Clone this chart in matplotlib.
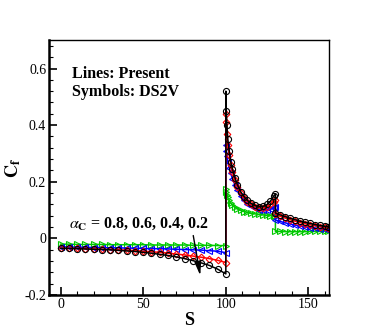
import matplotlib
matplotlib.use('Agg')
import matplotlib.pyplot as plt
from matplotlib.ticker import MultipleLocator

plt.rcParams['font.family'] = 'Liberation Serif'
plt.rcParams['mathtext.fontset'] = 'stix'

# S positions along the surface (100 and 130 repeated for the jumps)
s = [0, 5, 10, 15, 20, 25, 30, 35, 40, 45, 50, 55, 60, 65, 70, 75, 80, 85, 90, 95, 100,
     100, 100.3, 100.7, 101.2, 102, 103, 104, 105.5, 107, 109, 111, 113, 115, 117.5, 120, 122.5, 125, 127, 129, 130,
     130, 133, 136, 139, 142, 145, 148, 151, 154, 157, 160, 162]

cf_08 = [-0.020, -0.020, -0.021, -0.021, -0.021, -0.021, -0.022, -0.022, -0.022, -0.022, -0.022,
         -0.023, -0.023, -0.023, -0.023, -0.023, -0.024, -0.024, -0.024, -0.025, -0.025,
         0.175, 0.165, 0.155, 0.145, 0.135, 0.125, 0.118, 0.110, 0.104, 0.099, 0.095, 0.092, 0.089, 0.087,
         0.085, 0.083, 0.082, 0.081, 0.080, 0.079,
         0.025, 0.025, 0.024, 0.024, 0.024, 0.024, 0.024, 0.025, 0.025, 0.025, 0.026, 0.026]
cf_06 = [-0.030, -0.030, -0.031, -0.031, -0.032, -0.032, -0.033, -0.033, -0.034, -0.034, -0.035,
         -0.036, -0.036, -0.037, -0.038, -0.039, -0.040, -0.041, -0.043, -0.045, -0.050,
         0.330, 0.310, 0.290, 0.270, 0.250, 0.230, 0.210, 0.190, 0.170, 0.150, 0.135, 0.123, 0.114, 0.106,
         0.101, 0.099, 0.100, 0.103, 0.107, 0.110,
         0.065, 0.060, 0.055, 0.051, 0.047, 0.044, 0.041, 0.038, 0.036, 0.034, 0.032, 0.031]
cf_04 = [-0.034, -0.035, -0.035, -0.036, -0.037, -0.038, -0.039, -0.040, -0.041, -0.043, -0.045,
         -0.047, -0.049, -0.052, -0.055, -0.058, -0.062, -0.066, -0.071, -0.077, -0.085,
         0.440, 0.410, 0.370, 0.330, 0.295, 0.260, 0.235, 0.205, 0.183, 0.160, 0.143, 0.130, 0.120, 0.112,
         0.108, 0.108, 0.112, 0.120, 0.130, 0.135,
         0.085, 0.078, 0.072, 0.066, 0.061, 0.056, 0.052, 0.048, 0.045, 0.042, 0.039, 0.037]
cf_02 = [-0.035, -0.035, -0.036, -0.037, -0.038, -0.039, -0.040, -0.042, -0.044, -0.046, -0.049,
         -0.052, -0.056, -0.060, -0.065, -0.071, -0.078, -0.086, -0.095, -0.108, -0.125,
         0.520, 0.450, 0.400, 0.350, 0.310, 0.270, 0.245, 0.215, 0.190, 0.165, 0.148, 0.135, 0.125, 0.117,
         0.112, 0.113, 0.120, 0.132, 0.150, 0.157,
         0.090, 0.083, 0.077, 0.071, 0.066, 0.061, 0.057, 0.053, 0.049, 0.046, 0.043, 0.041]

series = [
    (cf_08, '#00c800', '>'),
    (cf_06, '#0000ff', '<'),
    (cf_04, '#ff0000', 'D'),
    (cf_02, 'black', 'o'),
]

fig = plt.figure(figsize=(3.74, 3.32), dpi=100)
ax = fig.add_axes([0.131, 0.111, 0.749, 0.768])

for cf, col, mk in series:
    ax.plot(s, cf, '-', color=col, lw=1.1)
    ms = 3.4 if mk == 'D' else 4.4
    ax.plot(s, cf, mk, mfc='none', mec=col, ms=ms, mew=0.8, ls='none')

ax.set_xlim(-7, 162.5)
ax.set_ylim(-0.2, 0.7)
ax.xaxis.set_major_locator(MultipleLocator(50))
ax.xaxis.set_minor_locator(MultipleLocator(10))
ax.yaxis.set_minor_locator(MultipleLocator(0.04))
ax.set_yticks([-0.2, 0, 0.2, 0.4, 0.6])
ax.set_yticklabels(['-0.2', '0', '0.2', '0.4', '0.6'])
ax.tick_params(which='major', direction='in', length=6, width=1.2, labelsize=10, pad=2)
ax.tick_params(which='minor', direction='in', length=3, width=0.8)

ax.spines['left'].set_linewidth(1.8)
ax.spines['bottom'].set_linewidth(1.8)
ax.spines['top'].set_linewidth(1.0)
ax.spines['right'].set_linewidth(1.0)

ax.set_xlabel('S', fontsize=13, fontweight='bold', labelpad=1)
ax.set_ylabel(r'$\mathbf{C_f}$', fontsize=13, labelpad=1)

ax.text(7, 0.55, 'Lines: Present\nSymbols: DS2V', fontsize=11.5, fontweight='bold',
        va='center', ha='left', linespacing=1.15)
ax.text(5, 0.05, r'$\alpha_{\mathbf{C}}$ = 0.8, 0.6, 0.4, 0.2', fontsize=11.5,
        fontweight='bold', va='center', ha='left')
ax.annotate('', xy=(84.8, -0.14), xytext=(80, 0.02),
            arrowprops=dict(arrowstyle='-|>,head_length=0.8,head_width=0.2', color='black', lw=1.0))

fig.savefig('out.png', dpi=100)
